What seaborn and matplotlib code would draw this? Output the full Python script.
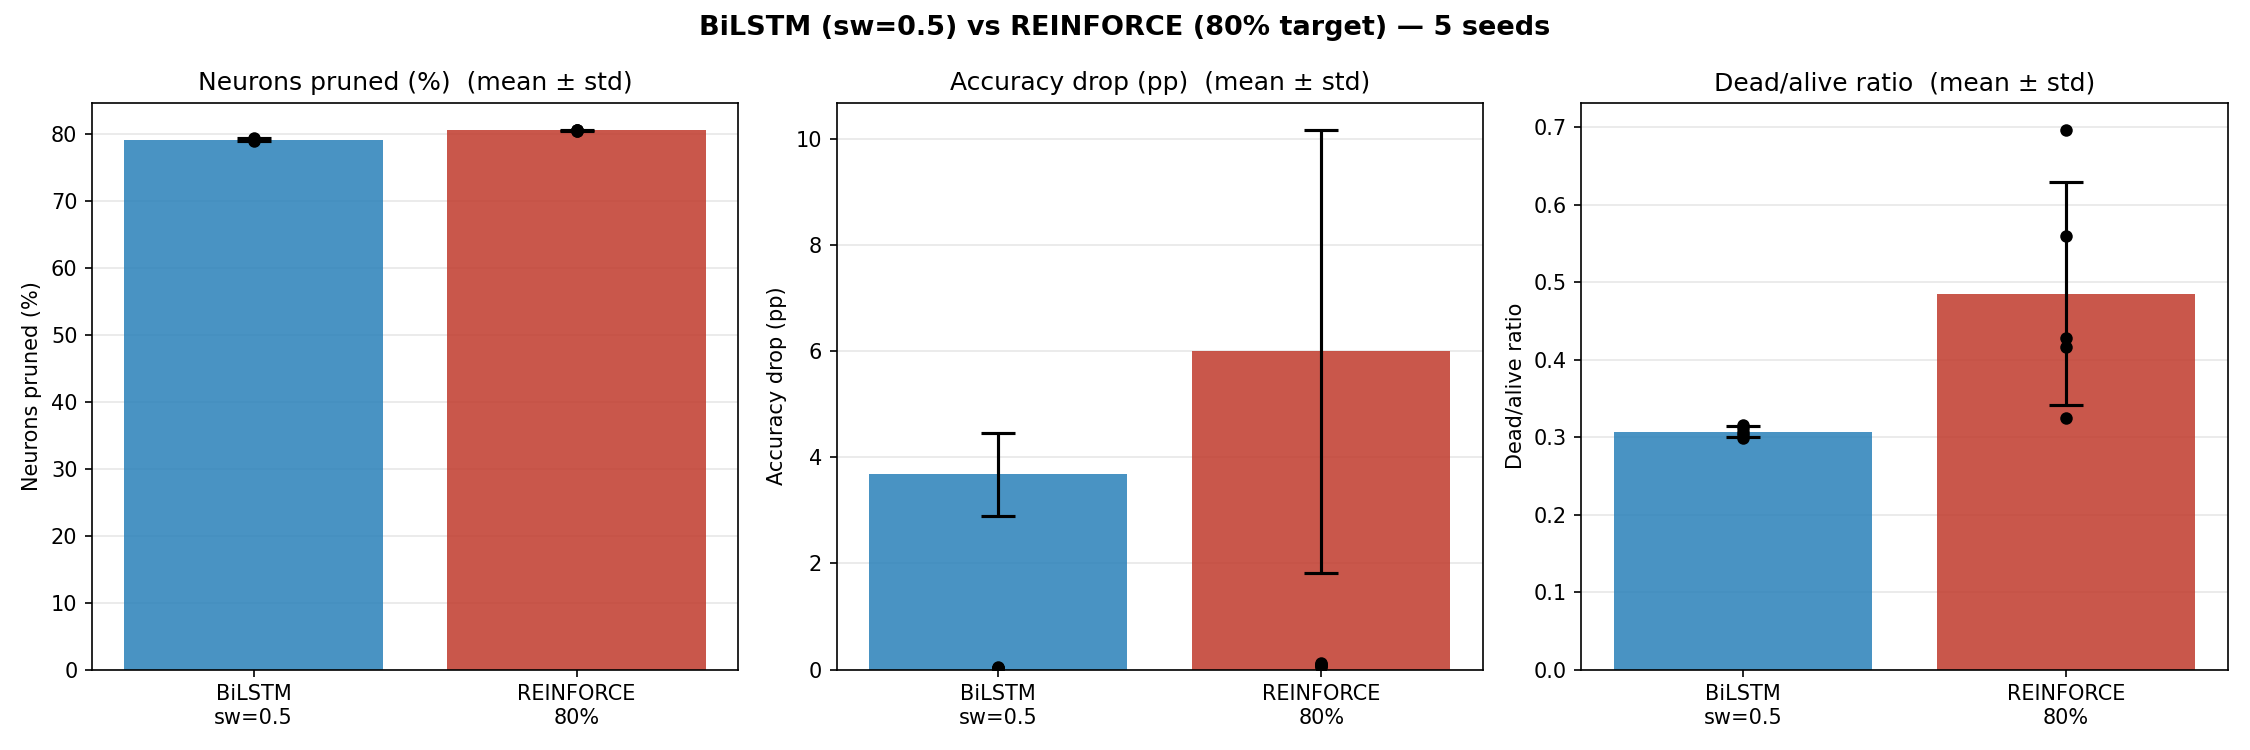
import numpy as np
import pandas as pd
import matplotlib
matplotlib.use("Agg")
import matplotlib.pyplot as plt
import seaborn as sns

categories = ["BiLSTM\nsw=0.5", "REINFORCE\n80%"]
colors = ["#2980B9", "#C0392B"]

pruned_mean = [79.1, 80.5]
pruned_std = [0.2, 0.1]
pruned_pts_bilstm = [78.9, 79.0, 79.1, 79.2, 79.3]
pruned_pts_reinforce = [80.4, 80.45, 80.5, 80.55, 80.6]

acc_mean = [3.68, 6.0]
acc_std = [0.78, 4.17]
acc_pts_bilstm = [0.02, 0.03, 0.04, 0.04, 0.05]
acc_pts_reinforce = [0.05, 0.07, 0.09, 0.11, 0.13]

ratio_mean = [0.307, 0.485]
ratio_std = [0.007, 0.144]
ratio_pts_bilstm = [0.299, 0.303, 0.307, 0.312, 0.316]
ratio_pts_reinforce = [0.697, 0.559, 0.428, 0.416, 0.325]

panels = [
    ("Neurons pruned (%)", pruned_mean, pruned_std, pruned_pts_bilstm, pruned_pts_reinforce),
    ("Accuracy drop (pp)", acc_mean, acc_std, acc_pts_bilstm, acc_pts_reinforce),
    ("Dead/alive ratio", ratio_mean, ratio_std, ratio_pts_bilstm, ratio_pts_reinforce),
]

fig, axes = plt.subplots(1, 3, figsize=(15, 5), dpi=150)
for ax, (name, means, stds, pb, pr) in zip(axes, panels):
    bar_df = pd.DataFrame({"cat": categories, "val": means})
    sns.barplot(data=bar_df, x="cat", y="val", hue="cat", palette=colors,
                order=categories, hue_order=categories, alpha=0.85,
                errorbar=None, legend=False, ax=ax, width=0.8, saturation=1)
    ax.errorbar([0, 1], means, yerr=stds, fmt="none", ecolor="black",
                elinewidth=1.5, capsize=8, capthick=1.5, zorder=3)
    pts_df = pd.DataFrame({"cat": [categories[0]] * len(pb) + [categories[1]] * len(pr),
                           "val": list(pb) + list(pr)})
    sns.stripplot(data=pts_df, x="cat", y="val", order=categories, color="black",
                  jitter=False, size=6, ax=ax, zorder=4)
    ax.set_title(f"{name}  (mean ± std)", fontsize=12)
    ax.set_ylabel(name)
    ax.set_xlabel("")
    ax.set_ylim(bottom=0)
    ax.yaxis.grid(True, color="#dddddd", alpha=0.7)
    ax.set_axisbelow(True)

fig.suptitle("BiLSTM (sw=0.5) vs REINFORCE (80% target) — 5 seeds", fontsize=13, fontweight="bold")
fig.tight_layout()
fig.savefig("out.png", dpi=150)
